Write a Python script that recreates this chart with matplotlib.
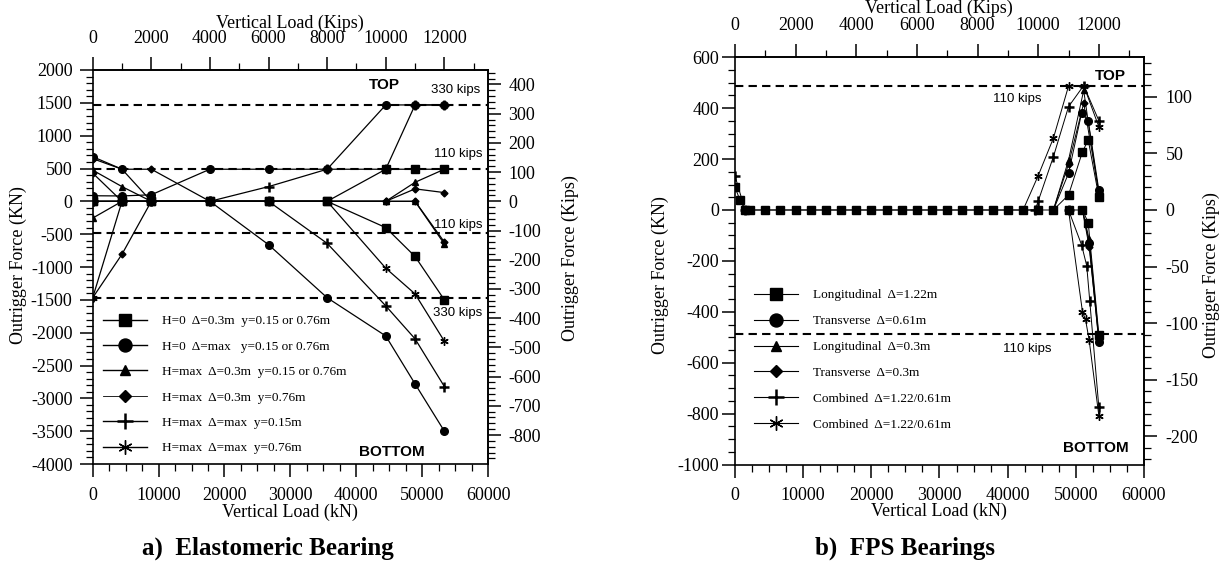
import matplotlib
matplotlib.use("Agg")
from matplotlib import pyplot as plt
from matplotlib.lines import Line2D
from matplotlib.ticker import MultipleLocator

plt.rcParams['font.family'] = ['Liberation Serif', 'DejaVu Serif']
plt.rcParams['font.size'] = 13
plt.rcParams['axes.unicode_minus'] = False

KIP = 4.448  # kN per kip
W, H = 1220, 563

# ---- a) elastomeric bearing: load steps (kips), outrigger force (kN) ----
load_a = [0, 1000, 2000, 4000, 6000, 8000, 10000, 11000, 12000]

sq_top_a = [0, 0, 0, 0, 0, 0, 489, 489, 489]
sq_bot_a = [0, 0, 0, 0, 0, 0, -400, -840, -1500]
ci_top_a = [85, 82, 100, 489, 489, 489, 1468, 1468, 1468]
ci_bot_a = [680, 489, 0, 0, -660, -1468, -2050, -2780, -3500]
tr_top_a = [475, 224, 0, 0, 0, 0, 0, 290, 489]
tr_bot_a = [-255, 0, 0, 0, 0, 0, 0, 0, -650]
di_top_a = [650, 489, 489, 0, 0, 0, 0, 190, 133]
di_bot_a = [-1468, -805, 0, 0, 0, 0, 0, 0, -620]
di_mid_a = [430, 0, 0]
pl_top_a = [0, 0, 0, 0, 224, 489, 489, 1468, 1468]
pl_bot_a = [0, 0, 0, 0, 0, -640, -1592, -2094, -2820]
st_bot_a = [-1468, 0, 0, 0, 0, 0, -1018, -1410, -2130]

labels_a = ["H=0  \u0394=0.3m  y=0.15 or 0.76m",
            "H=0  \u0394=max   y=0.15 or 0.76m",
            "H=max  \u0394=0.3m  y=0.15 or 0.76m",
            "H=max  \u0394=0.3m  y=0.76m",
            "H=max  \u0394=max  y=0.15m",
            "H=max  \u0394=max  y=0.76m"]

# ---- b) FPS bearings ----
load_b_sq = [0, 165, 330, 500, 1000, 1500, 2000, 2500, 3000, 3500, 4000, 4500,
             5000, 5500, 6000, 6500, 7000, 7500, 8000, 8500, 9000, 9500, 10000,
             10500, 11000, 11460, 11650, 12000]
sq_top_b = [89, 39, 0, 0, 0, 0, 0, 0, 0, 0, 0, 0,
            0, 0, 0, 0, 0, 0, 0, 0, 0, 0, 0,
            0, 59, 229, 275, 52]
load_b_sq_bot = [11000, 11460, 11650, 12000]
sq_bot_b = [0, 0, -50, -490]

load_b_ci_top = [10500, 11000, 11430, 11650, 12000]
ci_top_b = [0, 144, 380, 350, 79]
load_b_ci_bot = [11460, 11680, 12000]
ci_bot_b = [0, -130, -520]

load_b_tr_top = [10500, 11000, 11500, 12000]
tr_top_b = [0, 196, 470, 60]
load_b_tr_bot = [11460, 11680, 12000]
tr_bot_b = [0, -115, -500]

load_b_di_top = [10500, 11000, 11500, 12000]
di_top_b = [0, 180, 420, 70]
load_b_di_bot = [11460, 11680, 12000]
di_bot_b = [0, -145, -510]

load_b_pl_top = [0, 330, 9900, 10000, 10500, 11000, 11500, 12000]
pl_top_b = [134, 0, 0, 35, 209, 406, 489, 351]
load_b_pl_bot = [11000, 11430, 11600, 11700, 12000]
pl_bot_b = [0, -137, -219, -357, -775]

load_b_st_top = [9500, 10000, 10500, 11000, 11500, 12000]
st_top_b = [0, 135, 282, 487, 489, 327]
load_b_st_bot = [11000, 11460, 11560, 11680, 12000]
st_bot_b = [0, -400, -430, -511, -808]

labels_b = ["Longitudinal  \u0394=1.22m", "Transverse  \u0394=0.61m",
            "Longitudinal  \u0394=0.3m", "Transverse  \u0394=0.3m",
            "Combined  \u0394=1.22/0.61m", "Combined  \u0394=1.22/0.61m"]

STAR = (6, 2, 0)
styles = [dict(marker='s', ms=5.5),
          dict(marker='o', ms=5.5),
          dict(marker='^', ms=4.5),
          dict(marker='D', ms=3.5),
          dict(marker='+', ms=6.5, mew=1.8),
          dict(marker=STAR, ms=6, mew=1.0)]


def kn(kips):
    return [k * KIP for k in kips]


def box(left, top, right, bottom):
    return [left / W, 1 - bottom / H, (right - left) / W, (bottom - top) / H]


def dress(ax, ylim, ymaj, ymin, kmaj, kmin, lpad, rpad):
    ax.set_xlim(0, 60000)
    ax.set_ylim(*ylim)
    ax.xaxis.set_major_locator(MultipleLocator(10000))
    ax.xaxis.set_minor_locator(MultipleLocator(2500))
    ax.yaxis.set_major_locator(MultipleLocator(ymaj))
    ax.yaxis.set_minor_locator(MultipleLocator(ymin))
    for s in ax.spines.values():
        s.set_linewidth(1.2)
    ax.tick_params(which='major', direction='out', length=9.5, width=1.1)
    ax.tick_params(which='minor', direction='out', length=5, width=0.9)
    ax.tick_params(axis='x', pad=7)
    ax.tick_params(axis='y', pad=lpad)

    top = ax.secondary_xaxis('top', functions=(lambda v: v / KIP, lambda v: v * KIP))
    top.xaxis.set_major_locator(MultipleLocator(2000))
    top.xaxis.set_minor_locator(MultipleLocator(1000))
    top.tick_params(which='major', direction='out', length=9.5, width=1.1, pad=7)
    top.tick_params(which='minor', direction='out', length=5, width=0.9)

    right = ax.secondary_yaxis('right', functions=(lambda v: v / KIP, lambda v: v * KIP))
    right.yaxis.set_major_locator(MultipleLocator(kmaj))
    right.yaxis.set_minor_locator(MultipleLocator(kmin))
    right.tick_params(which='major', direction='out', length=9.5, width=1.1, pad=rpad)
    right.tick_params(which='minor', direction='out', length=5, width=0.9)
    for a in (top, right):
        for s in a.spines.values():
            s.set_linewidth(1.2)


def draw(ax, x, y, i, lw=0.9):
    ax.plot(kn(x), y, color='k', lw=lw, mfc='k', mec='k', **styles[i])


def legend(ax, labels, x, y, spacing, lws):
    handles = [Line2D([], [], color='k', lw=lws[i], mfc='k', mec='k', **styles[i])
               for i in range(6)]
    ax.legend(handles, labels, loc='upper left', bbox_to_anchor=(x / W, 1 - y / H),
              bbox_transform=ax.figure.transFigure, frameon=False, fontsize=9.5,
              markerscale=1.7, handlelength=3.3, handletextpad=1.2,
              labelspacing=spacing, borderpad=0, borderaxespad=0)


fig = plt.figure(figsize=(W / 100, H / 100), dpi=100)
sans = dict(family=['Liberation Sans', 'DejaVu Sans'])

# ---------------- a) ----------------
ax = fig.add_axes(box(92.7, 70, 488, 464))
dress(ax, (-4000, 2000), 500, 100, 100, 20, lpad=5, rpad=5)
for v in (1468, 489, -489, -1468):
    ax.axhline(v, color='k', lw=1.5, ls=(0, (4, 2.5)))

draw(ax, load_a, sq_top_a, 0)
draw(ax, load_a, sq_bot_a, 0)
draw(ax, load_a, ci_top_a, 1)
draw(ax, load_a, ci_bot_a, 1)
draw(ax, load_a, tr_top_a, 2)
draw(ax, load_a, tr_bot_a, 2)
draw(ax, load_a, di_top_a, 3)
draw(ax, load_a, di_bot_a, 3)
draw(ax, load_a[:3], di_mid_a, 3)
draw(ax, load_a, pl_top_a, 4)
draw(ax, load_a, pl_bot_a, 4)
draw(ax, load_a, st_bot_a, 5)

ax.text(0.739, 0.962, "TOP", transform=ax.transAxes, ha='center', va='center',
        fontsize=11, fontweight='bold', **sans)
ax.text(0.756, 0.031, "BOTTOM", transform=ax.transAxes, ha='center', va='center',
        fontsize=11, fontweight='bold', **sans)
for xf, yf, s in [(0.917, 0.949, "330 kips"), (0.925, 0.787, "110 kips"),
                  (0.925, 0.607, "110 kips"), (0.924, 0.383, "330 kips")]:
    ax.text(xf, yf, s, transform=ax.transAxes, ha='center', va='center',
            fontsize=9.5, **sans)
legend(ax, labels_a, 103, 315, 1.0, [1.0, 1.0, 1.0, 0.6, 1.0, 1.0])

fig.text(290 / W, 1 - 23 / H, "Vertical Load (Kips)", ha='center', va='center')
fig.text(290 / W, 1 - 512 / H, "Vertical Load (kN)", ha='center', va='center')
fig.text(18 / W, 1 - 265 / H, "Outrigger Force (KN)", ha='center', va='center', rotation=90)
fig.text(570 / W, 1 - 258 / H, "Outrigger Force (Kips)", ha='center', va='center', rotation=90)
fig.text(268 / W, 1 - 548 / H, "a)  Elastomeric Bearing", ha='center', va='center',
         fontsize=18, fontweight='bold')

# ---------------- b) ----------------
bx = fig.add_axes(box(735, 57.3, 1144, 464.5))
dress(bx, (-1000, 600), 200, 50, 50, 10, lpad=2, rpad=6)
for v in (489, -489):
    bx.axhline(v, color='k', lw=1.5, ls=(0, (4, 2.5)))

lw_b = 0.7
draw(bx, load_b_sq, sq_top_b, 0, lw_b)
draw(bx, load_b_sq_bot, sq_bot_b, 0, lw_b)
draw(bx, load_b_ci_top, ci_top_b, 1, lw_b)
draw(bx, load_b_ci_bot, ci_bot_b, 1, lw_b)
draw(bx, load_b_tr_top, tr_top_b, 2, lw_b)
draw(bx, load_b_tr_bot, tr_bot_b, 2, lw_b)
draw(bx, load_b_di_top, di_top_b, 3, lw_b)
draw(bx, load_b_di_bot, di_bot_b, 3, lw_b)
draw(bx, load_b_pl_top, pl_top_b, 4, lw_b)
draw(bx, load_b_pl_bot, pl_bot_b, 4, lw_b)
draw(bx, load_b_st_top, st_top_b, 5, lw_b)
draw(bx, load_b_st_bot, st_bot_b, 5, lw_b)

bx.text(0.919, 0.954, "TOP", transform=bx.transAxes, ha='center', va='center',
        fontsize=11, fontweight='bold', **sans)
bx.text(0.883, 0.041, "BOTTOM", transform=bx.transAxes, ha='center', va='center',
        fontsize=11, fontweight='bold', **sans)
bx.text(0.689, 0.898, "110 kips", transform=bx.transAxes, ha='center', va='center',
        fontsize=9.5, **sans)
bx.text(0.714, 0.284, "110 kips", transform=bx.transAxes, ha='center', va='center',
        fontsize=9.5, **sans)
legend(bx, labels_b, 754, 289, 1.04, [0.8] * 6)

fig.text(939 / W, 1 - 8 / H, "Vertical Load (Kips)", ha='center', va='center')
fig.text(939 / W, 1 - 511 / H, "Vertical Load (kN)", ha='center', va='center')
fig.text(660 / W, 1 - 275 / H, "Outrigger Force (KN)", ha='center', va='center', rotation=90)
fig.text(1211 / W, 1 - 275 / H, "Outrigger Force (Kips)", ha='center', va='center', rotation=90)
fig.text(905 / W, 1 - 548 / H, "b)  FPS Bearings", ha='center', va='center',
         fontsize=18, fontweight='bold')

fig.savefig("out.png", dpi=100)
